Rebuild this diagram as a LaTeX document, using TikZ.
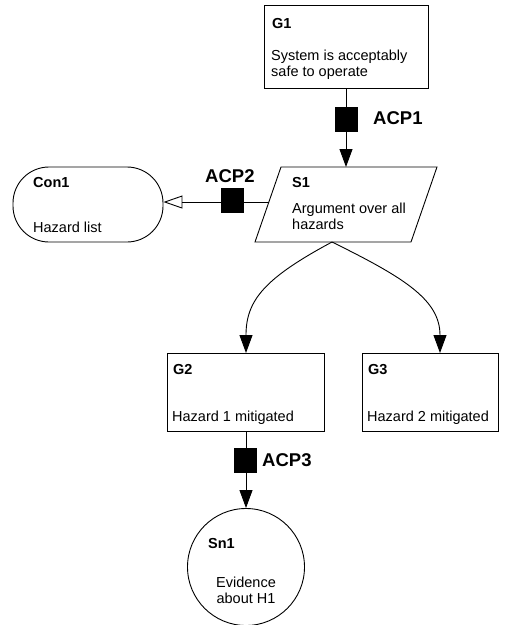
\documentclass[tikz,border=0pt]{standalone}
\usepackage{fontspec}
\setmainfont{Liberation Sans}
\usetikzlibrary{arrows.meta,calc}
\begin{document}
\begin{tikzpicture}[x=1pt,y=-1pt,
  shapeline/.style={draw=black, line width=0.9pt},
  goalbox/.style={shapeline, rectangle, inner sep=0},
  acpbox/.style={fill=black, draw=black, rectangle, inner sep=0, minimum width=22pt, minimum height=24pt},
  solidarrow/.style={line width=0.9pt, -{Triangle[length=18pt,width=13pt]}},
  openarrow/.style={line width=0.9pt, -{Triangle[open,length=19pt,width=13pt]}},
  idlbl/.style={inner sep=0, anchor=base west, font=\fontsize{14.5}{16}\selectfont\bfseries},
  bodytxt/.style={inner sep=0, anchor=base west, font=\fontsize{14.5}{16}\selectfont},
  acplbl/.style={inner sep=0, anchor=base west, font=\fontsize{18.5}{20}\selectfont\bfseries}]
\useasboundingbox (0,0) rectangle (508,625);

% G1
\node[goalbox, minimum width=164pt, minimum height=83pt] (g1) at (346,46.5) {};
\node[idlbl] (g1id) at (272,28) {G1};
\node[bodytxt] (g1a) at (271,60) {System is acceptably};
\node[bodytxt] (g1b) at (271,76) {safe to operate};

% S1 parallelogram
\coordinate (s1tl) at (281,167);
\coordinate (s1tr) at (437,167);
\coordinate (s1br) at (411,242);
\coordinate (s1bl) at (255,242);
\draw[shapeline] (s1tl) -- (s1tr) -- (s1br) -- (s1bl) -- cycle;
\coordinate (s1top) at (346,167);
\coordinate (s1bot) at (332,242);
\coordinate (s1left) at ($(s1tl)!0.467!(s1bl)$);
\node[idlbl] (s1id) at (292,187) {S1};
\node[bodytxt] (s1a) at (292,213) {Argument over all};
\node[bodytxt] (s1b) at (292,229) {hazards};

% Con1
\node[shapeline, rounded corners=36pt, minimum width=150pt, minimum height=75pt, inner sep=0] (con1) at (88,204.5) {};
\node[idlbl] (con1id) at (33,187) {Con1};
\node[bodytxt] (con1a) at (33,232) {Hazard list};

% G2, G3
\node[goalbox, minimum width=157pt, minimum height=78pt] (g2) at (245.5,392) {};
\node[idlbl] (g2id) at (173,374) {G2};
\node[bodytxt] (g2a) at (172,421) {Hazard 1 mitigated};
\node[goalbox, minimum width=136pt, minimum height=78pt] (g3) at (430,392) {};
\node[idlbl] (g3id) at (368,374) {G3};
\node[bodytxt] (g3a) at (367,421) {Hazard 2 mitigated};

% Sn1
\node[shapeline, circle, minimum size=117pt, inner sep=0] (sn1) at (246,567) {};
\node[idlbl] (sn1id) at (208,548) {Sn1};
\node[bodytxt, anchor=base] (sn1a) at (246,587) {Evidence};
\node[bodytxt, anchor=base] (sn1b) at (246,603) {about H1};

% connectors
\draw[solidarrow] (g1.south) -- (s1top);
\node[acpbox] (acp1) at (346,119.5) {};
\node[acplbl] (acp1l) at (373,124) {ACP1};

\coordinate (con1r) at (con1.east |- s1left);
\draw[openarrow] (s1left) -- (con1r);
\node[acpbox] (acp2) at (232,200.5) {};
\node[acplbl] (acp2l) at (205,182) {ACP2};

\coordinate (g2top) at (246,353);
\coordinate (g3top) at (440,353);
\draw[solidarrow] (s1bot) .. controls (265,278) and (246,300) .. (g2top);
\draw[solidarrow] (s1bot) .. controls (405,278) and (440,300) .. (g3top);

\draw[solidarrow] (g2.south -| sn1.north) -- (sn1.north);
\node[acpbox] (acp3) at (245,460) {};
\node[acplbl] (acp3l) at (262,466) {ACP3};
\end{tikzpicture}
\end{document}
